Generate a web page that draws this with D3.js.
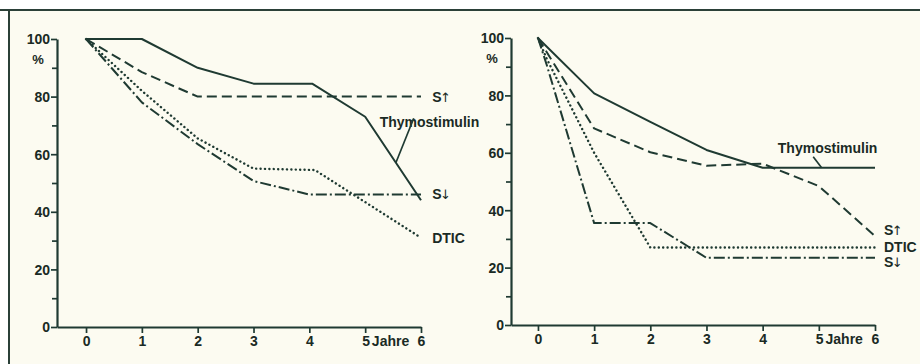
<!DOCTYPE html>
<html><head><meta charset="utf-8">
<script src="https://cdn.jsdelivr.net/npm/d3@7"></script>
<style>
html,body{margin:0;padding:0;background:#ffffff;}
svg{display:block;}
text{font-family:"Liberation Sans Narrow","Liberation Sans",Arial,sans-serif;font-weight:bold;fill:#1a2a24;}
</style></head>
<body>
<svg id="chart" width="920" height="364"></svg>
<script>
// ---------- data (years, survival %) ----------
const yearTicks = [0, 1, 2, 3, 4, 5, 6];
const pctTicks = [0, 20, 40, 60, 80, 100];
const pctMinorTicks = [10, 30, 50, 70, 90];
const yearUnit = "Jahre";
const pctUnit = "%";

// left panel
const leftThymo = [[0,100],[1,100],[2,90],[3,84.5],[4.05,84.5],[5,73],[6,44]];
const leftSUp   = [[0,100],[1,88.5],[2,80],[6,80]];
const leftDTIC  = [[0,100],[1,82],[2,65.5],[3,55],[4.1,54.5],[6,31]];
const leftSDown = [[0,100],[1,78],[2,63.5],[3,50.7],[4,46],[6,46]];

// right panel
const rightThymo = [[0,100],[1,80.7],[2,70.8],[3,61],[4,54.8],[6,54.8]];
const rightSUp   = [[0,100],[1,68.5],[2,60.2],[3,55.5],[4,56.2],[5,48.4],[6,31]];
const rightDTIC  = [[0,100],[0.15,93],[1,60],[2,27],[6,27]];
const rightSDown = [[0,100],[0.15,91],[1,35.5],[2,35.5],[3,23.4],[6,23.4]];

const seriesNames = ["Thymostimulin", "S\u2191", "DTIC", "S\u2193"];

// ---------- drawing ----------
const ink = "#1f3a32";
const FONT = "Liberation Sans Narrow, Liberation Sans, Arial, sans-serif";
const svg = d3.select("#chart");

// paper + frame
svg.append("rect").attr("x",9).attr("y",10).attr("width",911).attr("height",354).attr("fill","#fcfbf1");
svg.append("line").attr("x1",0).attr("x2",920).attr("y1",10).attr("y2",10).attr("stroke","#2b4038").attr("stroke-width",2);
svg.append("line").attr("x1",9).attr("x2",9).attr("y1",10).attr("y2",364).attr("stroke","#2b4038").attr("stroke-width",2);

const styles = {
  "Thymostimulin": {dash:null, cap:"butt", w:2},
  "S\u2191": {dash:"10,5", cap:"butt", w:2},
  "DTIC": {dash:"0.1,4.3", cap:"round", w:2.4},
  "S\u2193": {dash:"11,3,2,3", cap:"butt", w:2}
};

function interp(series, xv){
  for(let i=1;i<series.length;i++){
    const [x0,y0]=series[i-1],[x1,y1]=series[i];
    if(xv>=x0 && xv<=x1) return y0+(y1-y0)*(xv-x0)/(x1-x0);
  }
  return series[series.length-1][1];
}

function styleText(sel, size){
  sel.attr("font-size",size).style("font-family",FONT).style("font-weight","bold").attr("fill","#1a2a24");
}

function panel(cfg){
  const g = svg.append("g");
  const x = d3.scaleLinear().domain([cfg.xMin,6]).range([cfg.axisX, cfg.x6]);
  const y = d3.scaleLinear().domain([0,100]).range([cfg.y0, cfg.y100]);

  // y axis minor ticks
  g.append("g").attr("transform",`translate(${cfg.axisX},0)`)
    .call(d3.axisLeft(y).tickValues(pctMinorTicks).tickSize(5).tickFormat(""))
    .call(a=>{a.select(".domain").remove();a.selectAll("line").attr("stroke",ink).attr("stroke-width",1.7);});
  // y axis
  g.append("g").attr("transform",`translate(${cfg.axisX},0)`)
    .call(d3.axisLeft(y).tickValues(pctTicks).tickSize(6).tickSizeOuter(0).tickPadding(1))
    .call(a=>{
      a.select(".domain").attr("stroke",ink).attr("stroke-width",2.2);
      a.selectAll("line").attr("stroke",ink).attr("stroke-width",1.7);
      a.selectAll("text").call(styleText,14).attr("dy","0.35em");
    });
  // x axis
  g.append("g").attr("transform",`translate(0,${cfg.y0})`)
    .call(d3.axisBottom(x).tickValues(yearTicks).tickSize(6).tickSizeOuter(0).tickPadding(3)
      .tickFormat(d=> d===5 ? `5 ${yearUnit}` : d))
    .call(a=>{
      a.select(".domain").attr("stroke",ink).attr("stroke-width",2.2);
      a.selectAll("line").attr("stroke",ink).attr("stroke-width",1.7);
      a.selectAll("text").call(styleText,14)
        .attr("text-anchor", d=> d===5 ? "start" : "middle")
        .attr("dx", d=> d===5 ? -3.5 : 0)
        .attr("word-spacing", d=> d===5 ? "-2px" : null);
    });
  // % unit
  g.append("text").attr("x",cfg.axisX-19).attr("y",y(93)).attr("dy","0.35em")
    .attr("text-anchor","middle").attr("font-size",13).text(pctUnit);

  // lines
  const line = d3.line().x(d=>x(d[0])).y(d=>y(d[1]));
  cfg.series.forEach((s,i)=>{
    const st = styles[seriesNames[i]];
    g.append("path").datum(s).attr("d",line).attr("fill","none")
      .attr("stroke",ink).attr("stroke-width",st.w)
      .attr("stroke-dasharray",st.dash).attr("stroke-linecap",st.cap)
      .attr("stroke-linejoin","round");
  });

  // labels
  cfg.labels.forEach(l=>{
    const s = cfg.series[l.idx];
    const name = seriesNames[l.idx];
    const t = g.append("text")
      .attr("x", x(l.lx)).attr("y", y(l.ly)).attr("dy","0.35em")
      .attr("font-size", 14).attr("text-anchor","start");
    if(name.length===2){
      t.append("tspan").text(name[0]);
      t.append("tspan").attr("font-family","DejaVu Sans").attr("font-weight","normal")
        .attr("font-size",13).attr("dx",-1.5).text(name[1]);
    } else {
      t.text(name);
    }
    if(l.leader){
      const [fx,fy,tx] = l.leader;
      g.append("line").attr("x1",x(fx)).attr("y1",y(fy))
        .attr("x2",x(tx)).attr("y2",y(interp(s,tx)))
        .attr("stroke",ink).attr("stroke-width",1.7);
    }
  });
}

panel({
  xMin:-0.52, axisX:57, x6:421, y0:327, y100:39,
  series:[leftThymo,leftSUp,leftDTIC,leftSDown],
  labels:[
    {idx:0, lx:5.26, ly:71, leader:[5.87,72.5,5.55]},
    {idx:1, lx:6.2, ly:80},
    {idx:3, lx:6.2, ly:46},
    {idx:2, lx:6.2, ly:31}
  ]
});

panel({
  xMin:-0.48, axisX:511, x6:875, y0:325, y100:38,
  series:[rightThymo,rightSUp,rightDTIC,rightSDown],
  labels:[
    {idx:0, lx:4.27, ly:61.7, leader:[4.9,58.6,5.05]},
    {idx:1, lx:6.16, ly:33},
    {idx:2, lx:6.16, ly:27.3},
    {idx:3, lx:6.16, ly:21.8}
  ]
});
</script>
</body></html>
